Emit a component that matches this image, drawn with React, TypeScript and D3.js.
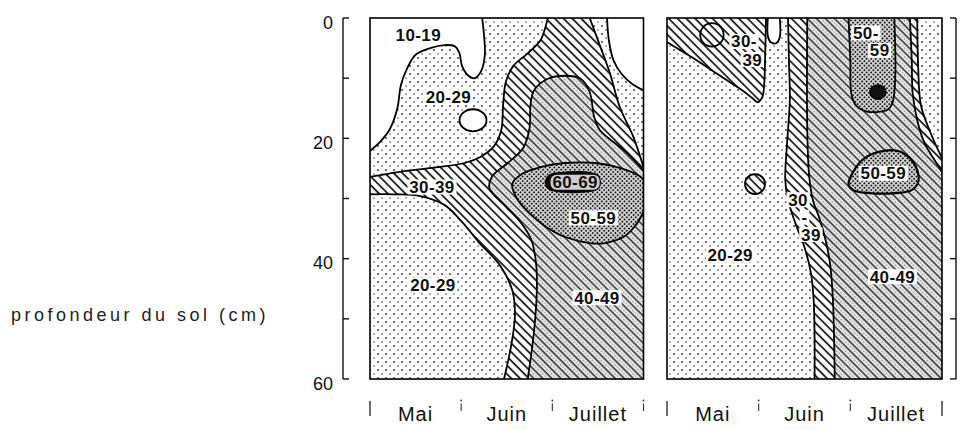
import React from 'react';
import * as d3 from 'd3';

type P = [number, number];
type Zone = { cls: string; parts: P[][] };
type Blob = { cls: string; pts: P[] };
type Ell = { cls: string; m: number; d: number; rm: number; rd: number };
type Lab = { t: string; m: number; d: number; bg?: string };

// ---------- axes / text ----------
const depthTicks = [0, 10, 20, 30, 40, 50, 60];
const depthLabels = [0, 20, 40, 60];
const months = ['Mai', 'Juin', 'Juillet'];
const monthBounds = [0, 1, 2, 3];
const yTitle = 'profondeur du sol (cm)';

// ---------- left panel (x = month index 0..3, y = depth cm) ----------
const left10Main: P[] = [[0, 22.1], [0.11, 20.6], [0.22, 18.4], [0.3, 15.0], [0.34, 11.1], [0.41, 8.3], [0.5, 6.1], [0.66, 5.0], [0.82, 4.5], [0.93, 4.7], [0.98, 5.8], [1.01, 8.0], [1.08, 9.6], [1.15, 10.0], [1.22, 8.8], [1.26, 6.1], [1.25, 2.8], [1.23, 0]];
const left10Right: P[] = [[2.6, 0], [2.62, 3.7], [2.67, 7.0], [2.76, 9.3], [2.88, 11.0], [3, 12.0]];
const left30Upper: P[] = [[0, 26.4], [0.31, 25.6], [0.68, 24.9], [1.04, 24.1], [1.21, 23.1], [1.36, 21.3], [1.44, 18.6], [1.46, 14.5], [1.49, 10.6], [1.57, 8.0], [1.72, 6.0], [1.87, 3.7], [1.93, 1.2], [1.95, 0]];
const left30Right: P[] = [[2.41, 0], [2.52, 4.5], [2.63, 9.1], [2.74, 14.8], [2.89, 19.8], [3, 24.8]];
const left30Lower: P[] = [[1.47, 60], [1.55, 54.3], [1.59, 49.4], [1.56, 45.2], [1.43, 41.2], [1.19, 37.2], [1.01, 33.9], [0.82, 31.1], [0.55, 29.6], [0.27, 29.3], [0, 29.3]];
const left40: P[] = [[1.73, 60], [1.8, 51.9], [1.83, 45.2], [1.82, 40.6], [1.77, 36.9], [1.66, 34.1], [1.48, 31.2], [1.31, 28.3], [1.34, 26.3], [1.51, 24.1], [1.68, 21.6], [1.75, 18.3], [1.76, 14.5], [1.8, 12.0], [1.95, 10.1], [2.14, 9.6], [2.31, 10.1], [2.41, 12.3], [2.46, 16.5], [2.52, 18.6], [2.61, 19.9], [2.82, 22.4], [3, 25.4]];
const left50: P[] = [[3, 32.2], [2.94, 33.9], [2.8, 36.2], [2.58, 37.4], [2.41, 37.4], [2.14, 36.4], [1.92, 34.6], [1.76, 32.6], [1.62, 30.2], [1.56, 27.6], [1.67, 25.9], [1.87, 24.8], [2.14, 24.1], [2.47, 24.1], [2.74, 24.9], [2.96, 26.3], [3, 26.9]];
const left60: P[] = [[1.93, 27.3], [1.98, 26.1], [2.09, 25.8], [2.41, 25.8], [2.5, 26.3], [2.52, 27.3], [2.49, 28.4], [2.36, 28.8], [2.09, 28.8], [1.96, 28.3]];
const leftHoles: Ell[] = [{ cls: '10', m: 1.13, d: 17.0, rm: 0.148, rd: 1.83 }];
const leftLabels: Lab[] = [
  { t: '10-19', m: 0.53, d: 2.8 },
  { t: '20-29', m: 0.86, d: 13.1 },
  { t: '30-39', m: 0.68, d: 28.1 },
  { t: '60-69', m: 2.25, d: 27.3, bg: '#cfcfcf' },
  { t: '50-59', m: 2.45, d: 33.2 },
  { t: '20-29', m: 0.69, d: 44.4 },
  { t: '40-49', m: 2.49, d: 46.5 },
];

// ---------- right panel ----------
const right30Tri: P[] = [[0, 4.0], [0.14, 5.3], [0.28, 6.6], [0.47, 8.5], [0.65, 10.3], [0.82, 12.0], [0.93, 13.3], [0.99, 14.0], [1.04, 13.1], [1.06, 11.1], [1.07, 7.0], [1.08, 0]];
const right10Tongue: P[] = [[1.1, 0], [1.1, 3.0], [1.13, 4.0], [1.19, 4.2], [1.23, 3.2], [1.23, 0]];
const right30Left: P[] = [[1.32, 0], [1.33, 7.0], [1.34, 13.6], [1.31, 20.8], [1.29, 26.9], [1.32, 30.2], [1.4, 34.1], [1.5, 38.1], [1.57, 42.4], [1.6, 46.9], [1.61, 53.5], [1.61, 60]];
const right30Right: P[] = [[3, 23.3], [2.87, 18.9], [2.77, 14.5], [2.74, 8.1], [2.73, 0]];
const right40Left: P[] = [[1.53, 0], [1.53, 18.6], [1.55, 26.1], [1.59, 30.2], [1.67, 33.6], [1.73, 36.9], [1.78, 41.0], [1.81, 46.9], [1.83, 60]];
const right40Right: P[] = [[3, 25.6], [2.94, 24.1], [2.81, 20.8], [2.73, 17.0], [2.68, 12.5], [2.67, 7.0], [2.65, 0]];
const right50Top: P[] = [[1.98, 0], [2.0, 7.0], [2.01, 12.5], [2.06, 14.5], [2.17, 15.5], [2.4, 15.3], [2.46, 14.1], [2.49, 9.8], [2.48, 0]];
const right50Blob: P[] = [[1.98, 27.6], [2.03, 25.6], [2.13, 23.6], [2.3, 22.3], [2.52, 22.1], [2.65, 23.3], [2.73, 25.3], [2.74, 27.3], [2.67, 28.6], [2.49, 29.1], [2.21, 29.1], [2.03, 28.6]];
const rightEllipses: Ell[] = [
  { cls: '60', m: 2.3, d: 12.3, rm: 0.087, rd: 1.16 },
  { cls: '30', m: 0.96, d: 27.6, rm: 0.109, rd: 1.66 },
  { cls: 'none', m: 0.49, d: 2.8, rm: 0.128, rd: 1.94 },
];
const rightLabels: Lab[] = [
  { t: '30-', m: 0.84, d: 3.9 },
  { t: '39', m: 0.93, d: 6.9 },
  { t: '50-', m: 2.17, d: 2.5 },
  { t: '59', m: 2.32, d: 5.4 },
  { t: '50-59', m: 2.36, d: 25.8 },
  { t: '30', m: 1.43, d: 30.2 },
  { t: '-', m: 1.5, d: 33.1 },
  { t: '39', m: 1.57, d: 36.0 },
  { t: '20-29', m: 0.69, d: 39.4 },
  { t: '40-49', m: 2.46, d: 43.0 },
];

const leftZones: Zone[] = [
  { cls: '10', parts: [left10Main, [[0, 0]]] },
  { cls: '10', parts: [left10Right, [[3, 0]]] },
  { cls: '30', parts: [left30Upper, left30Right, [[3, 60]], left30Lower] },
  { cls: '40', parts: [left40, [[3, 60]]] },
  { cls: '50', parts: [left50] },
];
const leftBlobs: Blob[] = [{ cls: '60', pts: left60 }];

const rightZones: Zone[] = [
  { cls: '30', parts: [right30Tri, [[0, 0]]] },
  { cls: '10', parts: [right10Tongue] },
  { cls: '30', parts: [right30Left, [[3, 60]], right30Right] },
  { cls: '40', parts: [right40Left, [[3, 60]], right40Right] },
  { cls: '50', parts: [right50Top] },
];
const rightBlobs: Blob[] = [{ cls: '50', pts: right50Blob }];

// ---------- layout ----------
const W = 965;
const H = 430;
const FONT = "'Liberation Sans', Arial, Helvetica, sans-serif";
const yScale = d3.scaleLinear().domain([0, 60]).range([18, 379]);
const xLeft = d3.scaleLinear().domain([0, 3]).range([370, 643.5]);
const xRight = d3.scaleLinear().domain([0, 3]).range([667, 942]);

const fills: Record<string, string> = {
  '10': '#ffffff',
  '30': 'url(#h30)',
  '40': 'url(#h40)',
  '50': 'url(#d50)',
  '60': '#111111',
  none: 'none',
};

const LFS = 17;
const LLS = 0.4;
function textWidth(t: string, fs: number) {
  let w = 0;
  for (const c of t) w += c === '-' ? 0.333 : 0.556;
  return w * fs + LLS * (t.length - 1);
}

function Panel({ id, x, zones, blobs, ellipses, labels, rightAxis }: {
  id: string; x: d3.ScaleLinear<number, number>; zones: Zone[]; blobs: Blob[]; ellipses: Ell[]; labels: Lab[]; rightAxis: boolean;
}) {
  const gen = d3.line<P>().x((p) => x(p[0])).y((p) => yScale(p[1])).curve(d3.curveCatmullRom.alpha(0.5));
  const genC = d3.line<P>().x((p) => x(p[0])).y((p) => yScale(p[1])).curve(d3.curveCatmullRomClosed.alpha(0.5));
  const zonePath = (parts: P[][]) => {
    let d = '';
    parts.forEach((pts, i) => {
      let s = pts.length > 1 ? (gen(pts) as string) : `M${x(pts[0][0])},${yScale(pts[0][1])}`;
      if (i > 0) s = 'L' + s.slice(1);
      d += s;
    });
    return d + 'Z';
  };
  const [x0, x1] = x.range();
  const [y0, y1] = yScale.range();
  return (
    <g>
      <clipPath id={id + 'clip'}>
        <rect x={x0} y={y0} width={x1 - x0} height={y1 - y0} />
      </clipPath>
      <g clipPath={`url(#${id}clip)`}>
        <rect x={x0} y={y0} width={x1 - x0} height={y1 - y0} fill="url(#dots)" />
        {zones.map((z, i) => (
          <path key={'zf' + i} d={zonePath(z.parts)} fill={fills[z.cls]} />
        ))}
        {blobs.map((b, i) => (
          <path key={'bf' + i} d={genC(b.pts) as string} fill={fills[b.cls]} />
        ))}
        {ellipses.map((e, i) => (
          <ellipse key={'ef' + i} cx={x(e.m)} cy={yScale(e.d)} rx={x(e.m + e.rm) - x(e.m)} ry={yScale(e.d + e.rd) - yScale(e.d)} fill={fills[e.cls]} />
        ))}
        {zones.map((z, i) =>
          z.parts.filter((p) => p.length > 1).map((pts, j) => (
            <path key={'zs' + i + '_' + j} d={gen(pts) as string} fill="none" stroke="#000" strokeWidth={1.8} />
          ))
        )}
        {blobs.map((b, i) => (
          <path key={'bs' + i} d={genC(b.pts) as string} fill="none" stroke="#000" strokeWidth={b.cls === '60' ? 2.5 : 2.2} />
        ))}
        {ellipses.map((e, i) => (
          <ellipse key={'es' + i} cx={x(e.m)} cy={yScale(e.d)} rx={x(e.m + e.rm) - x(e.m)} ry={yScale(e.d + e.rd) - yScale(e.d)} fill="none" stroke="#000" strokeWidth={1.8} />
        ))}
      </g>
      <rect x={x0} y={y0} width={x1 - x0} height={y1 - y0} fill="none" stroke="#000" strokeWidth={1.6} />
      {labels.map((l, i) => {
        const w = textWidth(l.t, LFS);
        const cx = x(l.m);
        const cy = yScale(l.d);
        return (
          <g key={'l' + i}>
            <rect x={cx - w / 2 - 2} y={cy - 7.5} width={w + 4} height={15} fill={l.bg || '#fff'} rx={l.bg ? 6 : 1} />
            <text x={cx} y={cy + 6} textAnchor="middle" fontFamily={FONT} fontSize={LFS} letterSpacing={LLS} fontWeight="bold" fill="#111">
              {l.t}
            </text>
          </g>
        );
      })}
      {monthBounds.map((b, i) => {
        const long = i === 0 || (rightAxis && i === 3);
        return long ? (
          <line key={'mb' + i} x1={x(b)} x2={x(b)} y1={401} y2={416} stroke="#222" strokeWidth={1.3} />
        ) : (
          <g key={'mb' + i}>
            <circle cx={x(b)} cy={400.5} r={0.9} fill="#333" />
            <line x1={x(b)} x2={x(b)} y1={403.5} y2={411} stroke="#333" strokeWidth={1.1} />
          </g>
        );
      })}
      {months.map((m, i) => (
        <text key={'m' + i} x={x(i + 0.5)} y={421} textAnchor="middle" fontFamily={FONT} fontSize={20} letterSpacing={1} fill="#111">
          {m}
        </text>
      ))}
      {rightAxis && (
        <g>
          <line x1={956} x2={956} y1={yScale(0)} y2={yScale(60)} stroke="#111" strokeWidth={1.4} />
          {depthTicks.map((t) => (
            <line key={'rt' + t} x1={950} x2={956} y1={yScale(t)} y2={yScale(t)} stroke="#111" strokeWidth={1.4} />
          ))}
        </g>
      )}
    </g>
  );
}

export default function App() {
  return (
    <svg width={W} height={H} style={{ position: 'absolute', left: 0, top: 0, background: '#fff' }}>
      <defs>
        <pattern id="dots" width={8} height={8} patternUnits="userSpaceOnUse">
          <rect width={8} height={8} fill="#fff" />
          <circle cx={2} cy={2} r={0.95} fill="#333" />
          <circle cx={6} cy={6} r={0.95} fill="#8a8a8a" />
        </pattern>
        <pattern id="h30" width={6.2} height={6.2} patternUnits="userSpaceOnUse" patternTransform="rotate(-45)">
          <rect width={6.2} height={6.2} fill="#fff" />
          <line x1={1} y1={0} x2={1} y2={6.2} stroke="#111" strokeWidth={1.7} />
        </pattern>
        <pattern id="h40" width={6.4} height={6.4} patternUnits="userSpaceOnUse" patternTransform="rotate(-45)">
          <rect width={6.4} height={6.4} fill="#e6e6e6" />
          <circle cx={4} cy={1.6} r={0.7} fill="#666" />
          <circle cx={4.3} cy={4.8} r={0.65} fill="#888" />
          <line x1={1} y1={0} x2={1} y2={6.4} stroke="#111" strokeWidth={1.3} />
        </pattern>
        <pattern id="d50" width={3.2} height={3.2} patternUnits="userSpaceOnUse" patternTransform="rotate(45)">
          <rect width={3.2} height={3.2} fill="#d6d6d6" />
          <circle cx={1.6} cy={1.6} r={1.0} fill="#1a1a1a" />
        </pattern>
      </defs>

      <text x={11} y={321} fontFamily={FONT} fontSize={18} letterSpacing={3.5} fill="#222">
        {yTitle}
      </text>

      {/* left depth axis */}
      <line x1={343} x2={343} y1={yScale(0)} y2={yScale(60)} stroke="#111" strokeWidth={1.4} />
      {depthTicks.map((t) => (
        <line key={'lt' + t} x1={343} x2={349} y1={yScale(t)} y2={yScale(t)} stroke="#111" strokeWidth={1.4} />
      ))}
      {depthLabels.map((t) => (
        <text key={'ll' + t} x={333} y={yScale(t) + 10.5} textAnchor="end" fontFamily={FONT} fontSize={18} fill="#111">
          {t}
        </text>
      ))}

      <Panel id="L" x={xLeft} zones={leftZones} blobs={leftBlobs} ellipses={leftHoles} labels={leftLabels} rightAxis={false} />
      <Panel id="R" x={xRight} zones={rightZones} blobs={rightBlobs} ellipses={rightEllipses} labels={rightLabels} rightAxis={true} />
    </svg>
  );
}
